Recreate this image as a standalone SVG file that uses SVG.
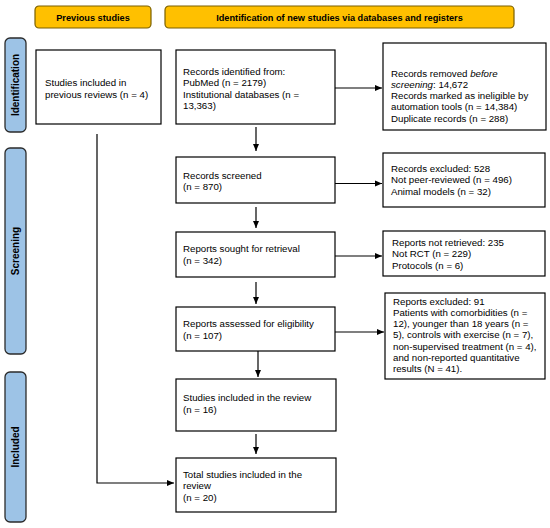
<svg xmlns="http://www.w3.org/2000/svg" width="550" height="528" viewBox="0 0 550 528">
<defs>
<marker id="ah" markerWidth="8" markerHeight="8" refX="7" refY="4" orient="auto" markerUnits="userSpaceOnUse">
<path d="M0,1 L7,4 L0,7 Z" fill="#000"/>
</marker>
<style>
.hdr{fill:#FFC000;stroke:#7a5f00;stroke-width:1.2}
.side{fill:#9DC3E6;stroke:#2b2b2b;stroke-width:1.3}
.box{fill:#fff;stroke:#000;stroke-width:1.2}
.ht{font-family:"Liberation Sans",Arial,sans-serif;font-size:9.2px;font-weight:bold;fill:#000;text-anchor:middle}
.st{font-family:"Liberation Sans",Arial,sans-serif;font-size:10px;font-weight:bold;fill:#000;text-anchor:middle}
.t{font-family:"Liberation Sans",Arial,sans-serif;font-size:9.7px;fill:#000}
.c{fill:none;stroke:#000;stroke-width:1.2}
</style>
</defs>
<rect width="550" height="528" fill="#fff"/>

<g id="hdr-previous"><rect class="hdr" x="35" y="6" width="116" height="22" rx="4"/><text class="ht" x="93" y="20.5">Previous studies</text></g>
<g id="hdr-new"><rect class="hdr" x="165" y="6" width="349" height="22" rx="4"/><text class="ht" x="339.5" y="20.5">Identification of new studies via databases and registers</text></g>

<g id="side-identification"><rect class="side" x="5" y="38" width="21" height="94" rx="5"/><text class="st" transform="translate(19,85) rotate(-90)">Identification</text></g>
<g id="side-screening"><rect class="side" x="5" y="148" width="21" height="206" rx="5"/><text class="st" transform="translate(19,251) rotate(-90)">Screening</text></g>
<g id="side-included"><rect class="side" x="5" y="372" width="21" height="150" rx="5"/><text class="st" transform="translate(19,447) rotate(-90)">Included</text></g>

<g id="previous"><rect class="box" x="36" y="50" width="125" height="74"/>
<text class="t" x="45" y="86">Studies included in</text>
<text class="t" x="45" y="97.5">previous reviews (n = 4)</text></g>

<g id="identified"><rect class="box" x="176" y="50" width="159" height="74"/>
<text class="t" x="183" y="75">Records identified from:</text>
<text class="t" x="183" y="86.3">PubMed (n = 2179)</text>
<text class="t" x="183" y="97.6">Institutional databases (n =</text>
<text class="t" x="183" y="108.9">13,363)</text></g>

<g id="removed"><rect class="box" x="383" y="43" width="163" height="87"/>
<text class="t" x="391" y="76.5">Records removed <tspan font-style="italic">before</tspan></text>
<text class="t" x="391" y="87.8"><tspan font-style="italic">screening</tspan>: 14,672</text>
<text class="t" x="391" y="99.1">Records marked as ineligible by</text>
<text class="t" x="391" y="110.4">automation tools (n = 14,384)</text>
<text class="t" x="391" y="121.7">Duplicate records (n = 288)</text></g>

<g id="screened"><rect class="box" x="176" y="157" width="159" height="46"/>
<text class="t" x="183" y="178.5">Records screened</text>
<text class="t" x="183" y="190">(n = 870)</text></g>

<g id="excluded"><rect class="box" x="383" y="153" width="162" height="54"/>
<text class="t" x="391" y="171.5">Records excluded: 528</text>
<text class="t" x="391" y="183">Not peer-reviewed (n = 496)</text>
<text class="t" x="391" y="194.5">Animal models (n = 32)</text></g>

<g id="sought"><rect class="box" x="176" y="232" width="159" height="45"/>
<text class="t" x="183" y="252">Reports sought for retrieval</text>
<text class="t" x="183" y="264">(n = 342)</text></g>

<g id="notretrieved"><rect class="box" x="383" y="231" width="162" height="45"/>
<text class="t" x="392" y="245.5">Reports not retrieved: 235</text>
<text class="t" x="392" y="257">Not RCT (n = 229)</text>
<text class="t" x="392" y="268.5">Protocols (n = 6)</text></g>

<g id="assessed"><rect class="box" x="176" y="307" width="159" height="44"/>
<text class="t" x="183" y="327">Reports assessed for eligibility</text>
<text class="t" x="183" y="339">(n = 107)</text></g>

<g id="reportsexcluded"><rect class="box" x="385" y="293" width="160" height="86"/>
<text class="t" x="393" y="304.5">Reports excluded: 91</text>
<text class="t" x="393" y="315.8">Patients with comorbidities (n =</text>
<text class="t" x="393" y="327.1">12), younger than 18 years (n =</text>
<text class="t" x="393" y="338.4">5), controls with exercise (n = 7),</text>
<text class="t" x="393" y="349.7">non-supervised treatment (n = 4),</text>
<text class="t" x="393" y="361">and non-reported quantitative</text>
<text class="t" x="393" y="372.3">results (N = 41).</text></g>

<g id="included"><rect class="box" x="176" y="379" width="160" height="52"/>
<text class="t" x="183" y="401">Studies included in the review</text>
<text class="t" x="183" y="413">(n = 16)</text></g>

<g id="total"><rect class="box" x="176" y="458" width="160" height="54"/>
<text class="t" x="183" y="477.5">Total studies included in the</text>
<text class="t" x="183" y="489">review</text>
<text class="t" x="183" y="500.5">(n = 20)</text></g>

<g id="connectors">
<line class="c" x1="335" y1="88" x2="382" y2="88" marker-end="url(#ah)"/>
<line class="c" x1="335" y1="183.5" x2="382" y2="183.5" marker-end="url(#ah)"/>
<line class="c" x1="335" y1="256" x2="382" y2="256" marker-end="url(#ah)"/>
<line class="c" x1="335" y1="332" x2="384" y2="332" marker-end="url(#ah)"/>
<line class="c" x1="256" y1="127" x2="256" y2="151" marker-end="url(#ah)"/>
<line class="c" x1="256" y1="207" x2="256" y2="228" marker-end="url(#ah)"/>
<line class="c" x1="256" y1="282" x2="256" y2="304" marker-end="url(#ah)"/>
<line class="c" x1="258" y1="351" x2="258" y2="377" marker-end="url(#ah)"/>
<line class="c" x1="256" y1="434" x2="256" y2="454" marker-end="url(#ah)"/>
<polyline class="c" points="97,134 97,483 174,483" marker-end="url(#ah)"/>
</g>
</svg>
